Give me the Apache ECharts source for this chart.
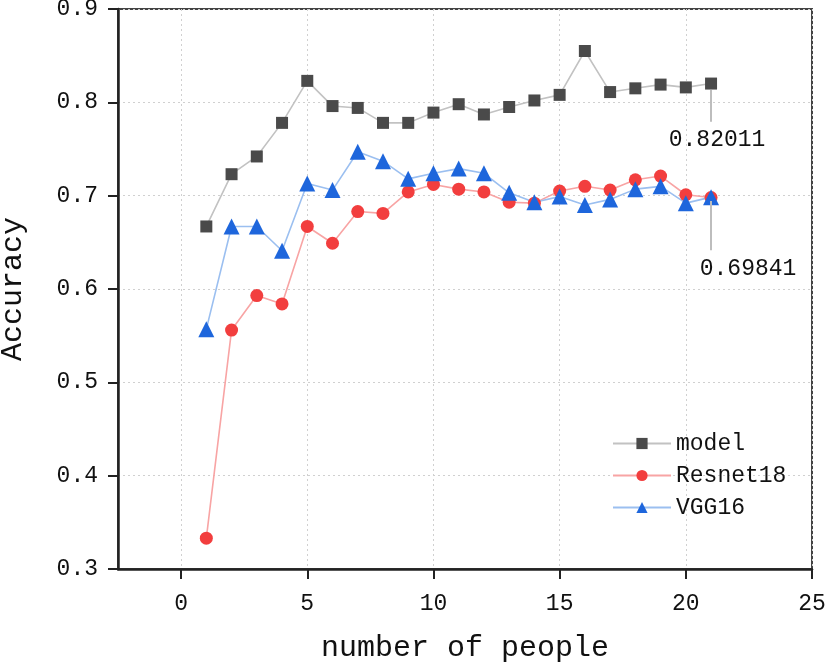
<!DOCTYPE html>
<html>
<head>
<meta charset="utf-8">
<script src="https://cdn.jsdelivr.net/npm/echarts@6/dist/echarts.min.js"></script>
<style>html,body{margin:0;padding:0;background:#fff}#c{width:826px;height:666px}</style>
</head>
<body>
<div id="c"></div>
<script>
const xs = [1,2,3,4,5,6,7,8,9,10,11,12,13,14,15,16,17,18,19,20,21];
const model = [0.667,0.723,0.742,0.778,0.823,0.796,0.794,0.778,0.778,0.789,0.798,0.787,0.795,0.802,0.808,0.855,0.811,0.815,0.819,0.816,0.82011];
const resnet18 = [0.333,0.556,0.593,0.584,0.667,0.649,0.683,0.681,0.704,0.712,0.707,0.704,0.693,0.692,0.705,0.710,0.706,0.717,0.721,0.701,0.698];
const vgg16 = [0.557,0.667,0.667,0.641,0.713,0.706,0.747,0.737,0.718,0.724,0.729,0.724,0.703,0.693,0.699,0.690,0.696,0.707,0.710,0.692,0.69841];
const xTicks = [0,5,10,15,20,25];
const seriesNames = ['model','Resnet18','VGG16'];

const FONT = '"Liberation Mono", monospace';
const pairs = arr => xs.map((x,i)=>[x,arr[i]]);
const lastX = xs[xs.length-1];

function annot(arr, top, bottom, offset){
  const v = arr[arr.length-1];
  return {
    markLine: {
      silent: true, symbol: ['none','none'],
      lineStyle: {color:'#bdbdbd', width:2, type:'solid'},
      label: {show:false},
      data: [[{coord:[lastX, v-top]},{coord:[lastX, v-bottom]}]]
    },
    markPoint: {
      silent: true, symbol:'circle', symbolSize: 0,
      itemStyle:{color:'rgba(0,0,0,0)'},
      label: {show:true, position:'inside', offset: offset, color:'#111',
        fontFamily: FONT, fontSize: 23, formatter: String(v)},
      data: [{coord:[lastX, v]}]
    }
  };
}

const chart = echarts.init(document.getElementById('c'), null, {renderer:'canvas'});
chart.setOption({
  backgroundColor:'#fff',
  animation:false,
  grid:{left:118, right:14, top:9, bottom:97, outerBoundsMode:'none', containLabel:false,
        show:true, borderColor:'#444', borderWidth:2, backgroundColor:'transparent'},
  legend:{
    orient:'vertical', left:607, top:427, itemWidth:58, itemHeight:14, itemGap:9,
    textStyle:{fontFamily:FONT, fontSize:23, color:'#111'},
    data: seriesNames
  },
  xAxis:{
    type:'value', min:-2.5, max:25,
    name:'number of people', nameLocation:'middle', nameGap:64,
    nameTextStyle:{fontFamily:FONT, fontSize:30, color:'#111'},
    axisLine:{onZero:false, lineStyle:{color:'#222', width:2.5}},
    axisTick:{inside:false, length:10, lineStyle:{color:'#222', width:2}, customValues: xTicks},
    axisLabel:{fontFamily:FONT, fontSize:23, color:'#111', margin:23, customValues: xTicks},
    splitLine:{show:true, lineStyle:{color:'#d0d0d0', type:[2,3], width:1}}
  },
  yAxis:{
    type:'value', min:0.3, max:0.9, interval:0.1,
    name:'Accuracy', nameLocation:'middle', nameGap:90,
    nameTextStyle:{fontFamily:FONT, fontSize:30, color:'#111'},
    axisLine:{onZero:false, lineStyle:{color:'#222', width:2.5}},
    axisTick:{inside:false, length:10, lineStyle:{color:'#222', width:2}},
    axisLabel:{fontFamily:FONT, fontSize:23, color:'#111', margin:20, formatter: v=>v.toFixed(1)},
    splitLine:{show:true, lineStyle:{color:'#d0d0d0', type:[2,3], width:1}}
  },
  series:[
    Object.assign({
      name:seriesNames[0], type:'line', data:pairs(model),
      symbol:'rect', symbolSize:12,
      itemStyle:{color:'#4a4a4a'}, lineStyle:{color:'#c2c2c2', width:1.6}
    }, annot(model, 0.007, 0.041, [6,56])),
    {
      name:seriesNames[1], type:'line', data:pairs(resnet18),
      symbol:'circle', symbolSize:13,
      itemStyle:{color:'#f23e3e'}, lineStyle:{color:'#f8a4a4', width:1.6}
    },
    Object.assign({
      name:seriesNames[2], type:'line', data:pairs(vgg16),
      symbol:'triangle', symbolSize:16,
      itemStyle:{color:'#1e66dc'}, lineStyle:{color:'#9bbff0', width:1.6}
    }, annot(vgg16, 0.004, 0.057, [37,72]))
  ]
});
</script>
</body>
</html>
